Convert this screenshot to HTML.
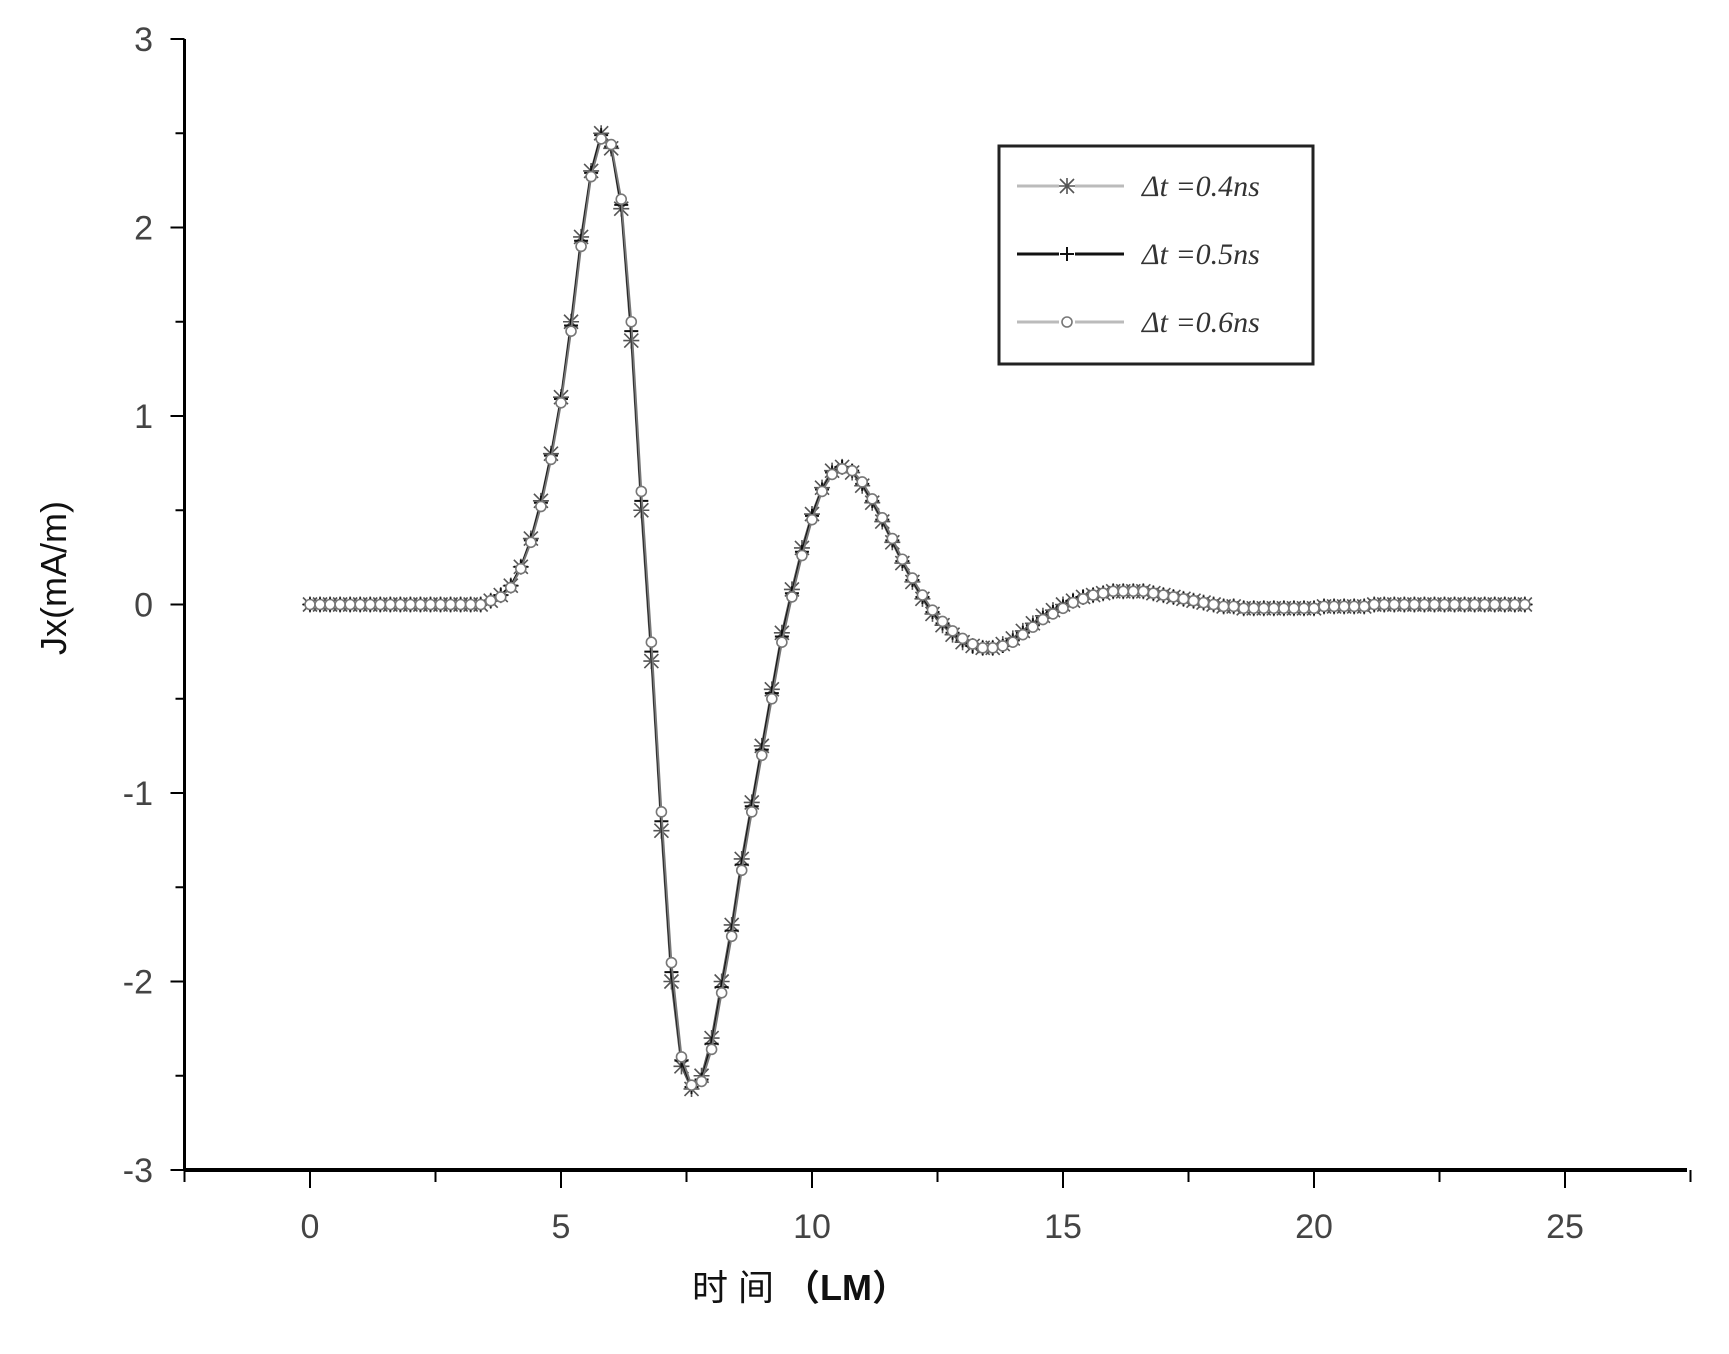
<!DOCTYPE html>
<html><head><meta charset="utf-8"><style>
html,body{margin:0;padding:0;background:#fff;}
svg{display:block;font-family:"Liberation Sans","Noto Sans CJK SC",sans-serif;}
</style></head><body>
<svg id="chart" width="1729" height="1354" viewBox="0 0 1729 1354"></svg>
<script>
const xTicks=[0,5,10,15,20,25];
const yTicks=[-3,-2,-1,0,1,2,3];
const t0=0, dt=0.2;
const s04=[0,0,0,0,0,0,0,0,0,0,0,0,0,0,0,0,0,0,
0.02,0.05,0.1,0.2,0.35,0.55,0.8,1.1,1.5,1.95,2.3,2.5,2.42,2.1,1.4,0.5,-0.3,-1.2,-2.0,-2.45,-2.57,-2.5,-2.3,-2.0,-1.7,-1.35,-1.05,-0.75,-0.45,-0.15,0.08,0.3,0.48,0.62,0.71,0.73,0.7,0.63,0.54,0.44,0.33,0.22,0.12,0.03,-0.05,-0.11,-0.16,-0.2,-0.22,-0.23,-0.23,-0.21,-0.18,-0.14,-0.1,-0.06,-0.03,0,0.02,0.04,0.05,0.06,0.07,0.07,0.07,0.07,0.06,0.05,0.04,0.03,0.02,0.01,0,-0.01,-0.01,-0.02,-0.02,-0.02,-0.02,-0.02,-0.02,-0.02,-0.02,-0.01,-0.01,-0.01,-0.01,-0.01,
0,0,0,0,0,0,0,0,0,0,0,0,0,0,0,0];
const s05=[0,0,0,0,0,0,0,0,0,0,0,0,0,0,0,0,0,0,
0.02,0.05,0.1,0.2,0.34,0.54,0.79,1.09,1.48,1.93,2.29,2.49,2.43,2.12,1.45,0.55,-0.25,-1.15,-1.95,-2.42,-2.56,-2.52,-2.33,-2.03,-1.73,-1.38,-1.07,-0.77,-0.47,-0.17,0.06,0.28,0.47,0.61,0.7,0.73,0.71,0.64,0.55,0.45,0.34,0.23,0.13,0.04,-0.04,-0.1,-0.15,-0.19,-0.22,-0.23,-0.23,-0.22,-0.19,-0.15,-0.11,-0.07,-0.04,-0.01,0.02,0.04,0.05,0.06,0.07,0.07,0.07,0.07,0.06,0.05,0.04,0.03,0.02,0.01,0,-0.01,-0.01,-0.02,-0.02,-0.02,-0.02,-0.02,-0.02,-0.02,-0.02,-0.01,-0.01,-0.01,-0.01,-0.01,
0,0,0,0,0,0,0,0,0,0,0,0,0,0,0,0];
const s06=[0,0,0,0,0,0,0,0,0,0,0,0,0,0,0,0,0,0,
0.02,0.04,0.09,0.19,0.33,0.52,0.77,1.07,1.45,1.9,2.27,2.47,2.44,2.15,1.5,0.6,-0.2,-1.1,-1.9,-2.4,-2.55,-2.53,-2.36,-2.06,-1.76,-1.41,-1.1,-0.8,-0.5,-0.2,0.04,0.26,0.45,0.6,0.69,0.72,0.71,0.65,0.56,0.46,0.35,0.24,0.14,0.05,-0.03,-0.09,-0.14,-0.18,-0.21,-0.23,-0.23,-0.22,-0.2,-0.16,-0.12,-0.08,-0.05,-0.02,0.01,0.03,0.05,0.06,0.07,0.07,0.07,0.07,0.06,0.05,0.04,0.03,0.02,0.01,0,-0.01,-0.01,-0.02,-0.02,-0.02,-0.02,-0.02,-0.02,-0.02,-0.02,-0.01,-0.01,-0.01,-0.01,-0.01,
0,0,0,0,0,0,0,0,0,0,0,0,0,0,0,0];
const NS="http://www.w3.org/2000/svg";
const svg=document.getElementById('chart');
const X0=310, XU=50.2, Y0=604.5, YU=188.5;
function sx(v){return X0+v*XU;}
function sy(v){return Y0-v*YU;}
function el(tag,attrs,parent){const e=document.createElementNS(NS,tag);for(const k in attrs)e.setAttribute(k,attrs[k]);(parent||svg).appendChild(e);return e;}
const ax=el('line',{x1:sx(-2.5),y1:sy(-3),x2:1687,y2:sy(-3),stroke:'#000','stroke-width':4});


const ay=el('line',{x1:sx(-2.5),y1:sy(3),x2:sx(-2.5),y2:sy(-3),stroke:'#000','stroke-width':3});


for(let v=-2.5;v<=27.5;v+=2.5){
  const major=(v%5===0);
  const t=el('line',{x1:sx(v),y1:sy(-3),x2:sx(v),y2:sy(-3)+(major?18:12),stroke:'#000','stroke-width':2});
  
  
}
xTicks.forEach(v=>{
  const t=el('text',{x:sx(v),y:1238,'font-size':34,'text-anchor':'middle',fill:'#444'});
  t.textContent=v;
  
  
});
for(let v=-3;v<=3;v+=0.5){
  const major=Number.isInteger(v);
  const t=el('line',{x1:sx(-2.5),y1:sy(v),x2:sx(-2.5)-(major?14:9),y2:sy(v),stroke:'#000','stroke-width':2});
  
  
}
yTicks.forEach(v=>{
  const t=el('text',{x:153,y:sy(v)+12,'font-size':34,'text-anchor':'end',fill:'#444'});
  t.textContent=v;
  
  
});
const yl=el('text',{x:0,y:0,'font-size':36,'text-anchor':'middle',fill:'#111',transform:'translate(66,578) rotate(-90)'});
yl.textContent='Jx(mA/m)';


const xl=el('text',{x:800,y:1300,'font-size':36,'text-anchor':'middle',fill:'#111'});
xl.innerHTML='时 间 <tspan font-weight="bold">（LM）</tspan>';


function marker(kind,x,y,g,col){
  if(kind==='star'){
    el('path',{d:`M${x-7},${y-7}L${x+7},${y+7}M${x+7},${y-7}L${x-7},${y+7}M${x},${y-8}L${x},${y+8}M${x-8},${y}L${x+8},${y}`,stroke:col,'stroke-width':1.6,fill:'none'},g);
  }else if(kind==='plus'){
    el('path',{d:`M${x},${y-7}L${x},${y+7}M${x-7},${y}L${x+7},${y}`,stroke:col,'stroke-width':2,fill:'none'},g);
  }else{
    el('circle',{cx:x,cy:y,r:5,stroke:col,'stroke-width':1.6,fill:'#fff'},g);
  }
}
const seriesList=[{d:s04,k:'star',c:'#555',n:'series-0.4ns'},{d:s05,k:'plus',c:'#111',n:'series-0.5ns'},{d:s06,k:'circle',c:'#777',n:'series-0.6ns'}];
seriesList.forEach(s=>{
  const g=el('g',{});
  
  
  const pts=s.d.map((v,i)=>sx(t0+i*dt).toFixed(1)+','+sy(v).toFixed(1)).join(' ');
  el('polyline',{points:pts,fill:'none',stroke:s.c,'stroke-width':2},g);
  s.d.forEach((v,i)=>marker(s.k,sx(t0+i*dt),sy(v),g,s.c));
});
const lg=el('g',{});


el('rect',{x:999,y:146,width:314,height:218,fill:'#fff',stroke:'#222','stroke-width':3},lg);
const labels=['Δt =0.4ns','Δt =0.5ns','Δt =0.6ns'];
seriesList.forEach((s,i)=>{
  const y=186+i*68;
  const e=el('g',{},lg);
  
  
  el('line',{x1:1017,y1:y,x2:1124,y2:y,stroke:s.c==='#111'?'#111':'#bbb','stroke-width':3},e);
  el('rect',{x:1059,y:y-9,width:16,height:18,fill:'#fff'},e);
  marker(s.k,1067,y,e,s.c);
  const t=el('text',{x:1142,y:y+10,'font-size':30,fill:'#333','font-family':'Liberation Serif, serif','font-style':'italic'},e);
  t.textContent=labels[i];
});
</script>
</body></html>
